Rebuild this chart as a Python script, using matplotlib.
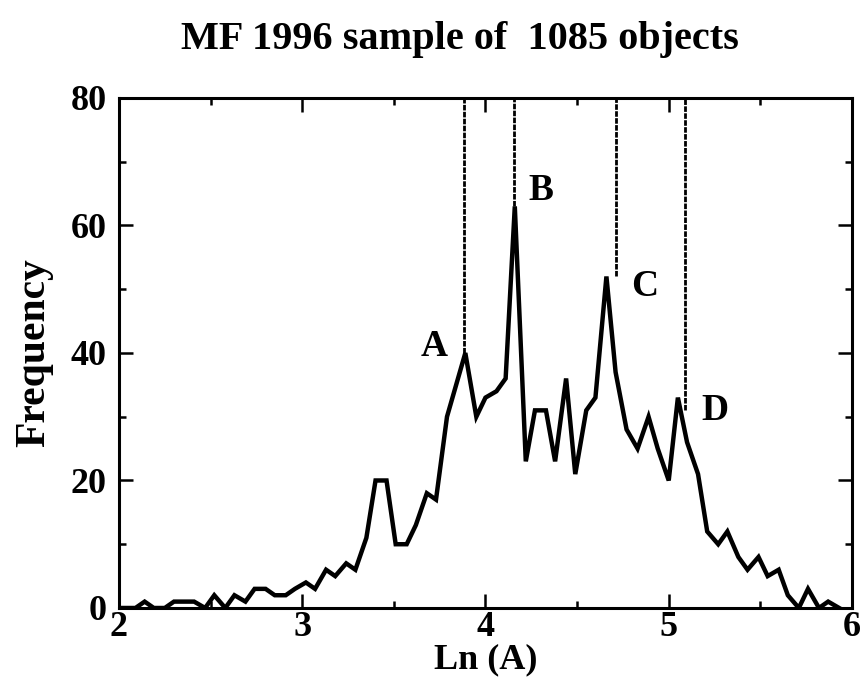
import numpy as np
import matplotlib
matplotlib.use('Agg')
import matplotlib.pyplot as plt
from matplotlib.ticker import MultipleLocator

# Frequency polygon (Ln(A) bin centre, count)
ln_a = [2.00, 2.03, 2.09, 2.14, 2.19, 2.25, 2.30, 2.36, 2.41, 2.47,
        2.52, 2.58, 2.63, 2.69, 2.74, 2.80, 2.85, 2.91, 2.96, 3.02,
        3.07, 3.13, 3.18, 3.24, 3.29, 3.35, 3.40, 3.46, 3.51, 3.57,
        3.62, 3.68, 3.73, 3.79, 3.84, 3.89, 3.95, 4.00, 4.06, 4.11,
        4.16, 4.22, 4.27, 4.33, 4.38, 4.44, 4.49, 4.55, 4.60, 4.66,
        4.71, 4.77, 4.83, 4.89, 4.94, 5.00, 5.05, 5.10, 5.16, 5.21,
        5.27, 5.32, 5.38, 5.43, 5.49, 5.54, 5.60, 5.65, 5.71, 5.76,
        5.82, 5.87, 5.93]
freq = [0, 0, 0, 1, 0, 0, 1, 1, 1, 0,
        2, 0, 2, 1, 3, 3, 2, 2, 3, 4,
        3, 6, 5, 7, 6, 11, 20, 20, 10, 10,
        13, 18, 17, 30, 35, 40, 30, 33, 34, 36,
        63, 23, 31, 31, 23, 36, 21, 31, 33, 52,
        37, 28, 25, 30, 25, 20, 33, 26, 21, 12,
        10, 12, 8, 6, 8, 5, 6, 2, 0, 3,
        0, 1, 0]

# peak markers: label, x of dashed line, bottom of dashed line, label position
peak_names = ['A', 'B', 'C', 'D']
peak_x = [3.885, 4.155, 4.71, 5.09]
peak_bottom = [40, 63, 52, 31]
label_x = [3.72, 4.30, 4.87, 5.25]
label_y = [41, 65.5, 50.5, 31]

plt.rcParams['font.family'] = ['Liberation Serif', 'DejaVu Serif']
plt.rcParams['font.weight'] = 'bold'

fig = plt.figure(figsize=(8.66, 6.88), dpi=100)
ax = fig.add_axes([0.1374, 0.1163, 0.8464, 0.7413])

ax.plot(ln_a, freq, color='black', lw=3.2, solid_joinstyle='miter')

for name, px, pb, lx, ly in zip(peak_names, peak_x, peak_bottom, label_x, label_y):
    ax.plot([px, px], [pb, 80], color='black', lw=2.0, ls=(0, (2, 0.5)))
    ax.text(lx, ly, name, fontsize=27, fontweight='bold', ha='center', va='center')

ax.set_xlim(2, 6)
ax.set_ylim(0, 80)
ax.xaxis.set_major_locator(MultipleLocator(1))
ax.xaxis.set_minor_locator(MultipleLocator(0.5))
ax.yaxis.set_major_locator(MultipleLocator(20))
ax.yaxis.set_minor_locator(MultipleLocator(10))
ax.tick_params(which='both', direction='in', top=True, right=True,
               labelsize=26, width=1.8)
ax.tick_params(which='major', length=10)
ax.tick_params(axis='y', which='major', pad=9)
ax.tick_params(axis='x', which='major', pad=2)
ax.tick_params(which='minor', length=5)
for lab in ax.get_xticklabels() + ax.get_yticklabels():
    lab.set_fontweight('bold')
for sp in ax.spines.values():
    sp.set_linewidth(2.2)

ax.set_xlabel('Ln (A)', fontsize=26, fontweight='bold', labelpad=0)
ax.set_ylabel('Frequency', fontsize=30, fontweight='bold', labelpad=12)
fig.text(0.531, 0.942, 'MF 1996 sample of  1085 objects', fontsize=29,
         fontweight='bold', ha='center', va='center')

fig.savefig('out.png', dpi=100)
